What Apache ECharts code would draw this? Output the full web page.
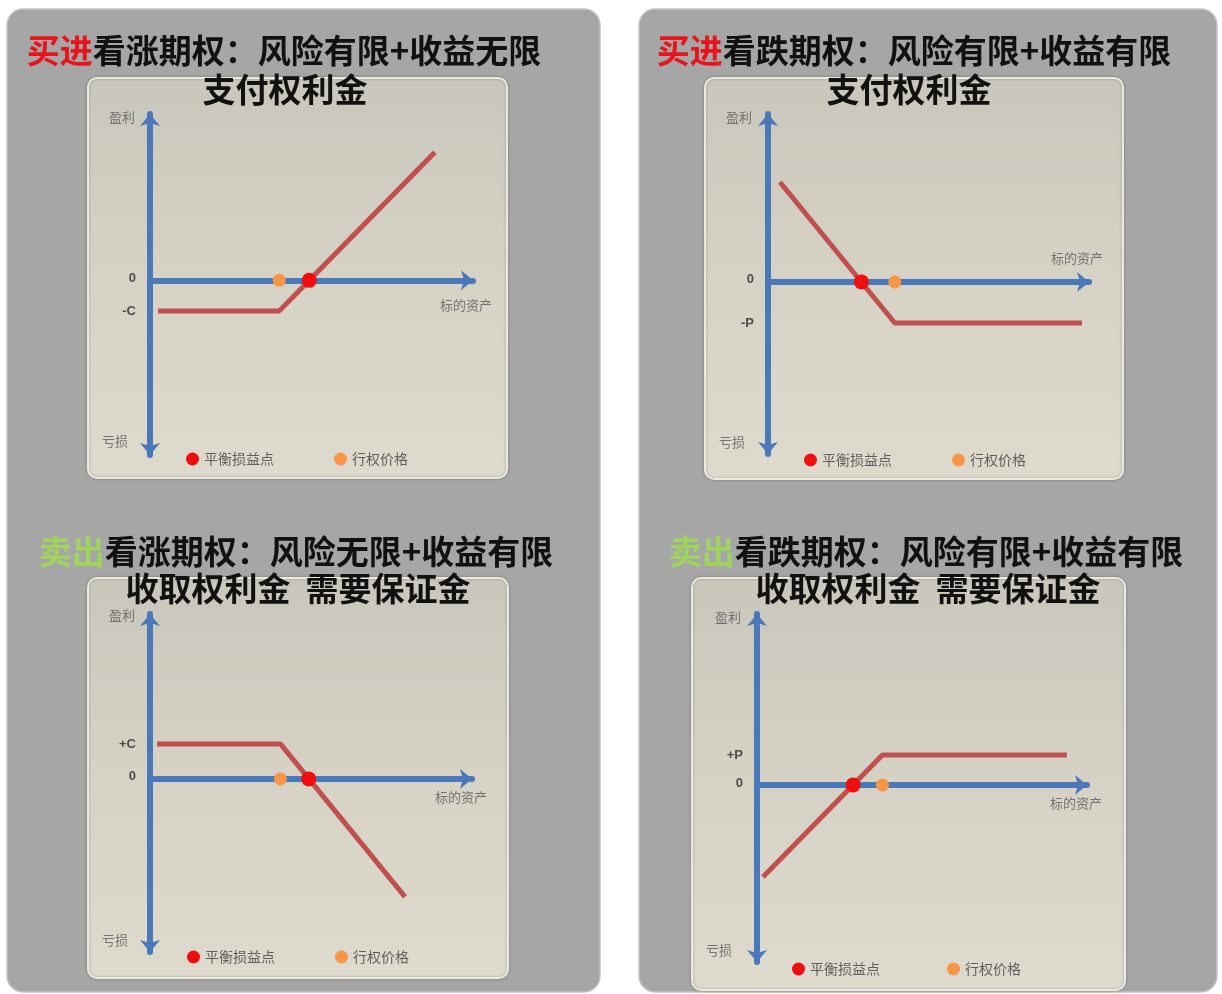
<!DOCTYPE html>
<html>
<head>
<meta charset="utf-8">
<title>期权损益图</title>
<script src="https://cdn.jsdelivr.net/npm/echarts@6/dist/echarts.min.js"></script>
<style>
  html, body { margin: 0; padding: 0; background: #ffffff; }
  #chart { width: 1222px; height: 994px; }
</style>
</head>
<body>
<div id="chart"></div>
<script>
// Payoff diagrams of the four basic option positions.
// x = price of the underlying (0-100), y = profit / loss (arbitrary units).

const actionWords   = ['买进', '买进', '卖出', '卖出'];
const titleRest     = ['看涨期权：风险有限+收益无限', '看跌期权：风险有限+收益有限',
                       '看涨期权：风险无限+收益有限', '看跌期权：风险有限+收益有限'];
const subTitles     = ['支付权利金', '支付权利金', '收取权利金  需要保证金', '收取权利金  需要保证金'];

const premiumLabels = ['-C', '-P', '+C', '+P'];
const premiumLevels = [-18.5, -24.5, 21.2, 17.5];
const strikePrices  = [40, 39.5, 40.5, 38];
const breakevens    = [49.3, 29.1, 49.3, 29.1];

// payoff polylines (flat part sits at the premium level)
const longCall  = [[2.5, premiumLevels[0]], [strikePrices[0], premiumLevels[0]], [88.2, 77]];
const longPut   = [[3.7, 59.5], [strikePrices[1], premiumLevels[1]], [97.8, premiumLevels[1]]];
const shortCall = [[2.2, premiumLevels[2]], [strikePrices[2], premiumLevels[2]], [79.2, -71.6]];
const shortPut  = [[1.8, -53.8], [strikePrices[3], premiumLevels[3]], [93.9, premiumLevels[3]]];
const payoffLines = [longCall, longPut, shortCall, shortPut];

const yRanges   = [[-105, 100], [-102.5, 100], [-105, 100], [-103.5, 100]];
const xRange    = [0, 100];
const axisWords = ['盈利', '亏损', '标的资产'];
const legendNames = ['平衡损益点', '行权价格'];

// ---- layout ----
const FONT = '"Noto Sans CJK SC", "Microsoft YaHei", sans-serif';
const layout = [
  { grid: { left: 150, top: 114, width: 323, height: 341 },
    box: [88, 78, 419, 400], t1: [284, 50], t2: [285, 89],
    legend: { left: 186, top: 452, gap: 60 },
    upOff: [-15, 3], downOff: [-22, -14], nameOff: [-7, 25] },
  { grid: { left: 768, top: 114, width: 321, height: 340 },
    box: [705, 78, 418, 401], t1: [914, 50], t2: [909, 89],
    legend: { left: 804, top: 453, gap: 60 },
    upOff: [-16, 3], downOff: [-23, -12], nameOff: [-12, -24] },
  { grid: { left: 150, top: 614, width: 322, height: 338 },
    box: [88, 578, 420, 400], t1: [296, 551], t2: [298, 588],
    legend: { left: 187, top: 950, gap: 60 },
    upOff: [-15, 1], downOff: [-22, -12], nameOff: [-11, 18] },
  { grid: { left: 757, top: 614, width: 330, height: 348 },
    box: [692, 578, 433, 412], t1: [926, 551], t2: [928, 588],
    legend: { left: 792, top: 962, gap: 67 },
    upOff: [-16, 3], downOff: [-25, -12], nameOff: [-11, 18] }
];

const AXIS_BLUE = '#4a78b8';
const LINE_RED = '#c0504d';
const DOT_RED = '#ee0e0e';
const DOT_ORANGE = '#f79646';

const grids = [], xAxes = [], yAxes = [], series = [], legends = [], graphics = [];

// outer grey cards
[[7, 9, 593, 983], [639, 9, 578, 983]].forEach(r => {
  graphics.push({
    type: 'rect', z: -20,
    shape: { x: r[0], y: r[1], width: r[2], height: r[3], r: 16 },
    style: { fill: '#a6a6a6', stroke: '#c4c4c4', lineWidth: 1.5 }
  });
});

layout.forEach((L, i) => {
  const [ymin, ymax] = yRanges[i];

  // beige plotting card
  graphics.push({
    type: 'rect', z: -10,
    shape: { x: L.box[0], y: L.box[1], width: L.box[2], height: L.box[3], r: 9 },
    style: {
      fill: new echarts.graphic.LinearGradient(0, 0, 0, 1, [
        { offset: 0, color: '#c9c6bb' },
        { offset: 0.5, color: '#d6d2c6' },
        { offset: 1, color: '#dedacd' }
      ]),
      stroke: '#ece9df', lineWidth: 2,
      shadowBlur: 3, shadowColor: 'rgba(0,0,0,0.25)'
    }
  });

  // headings
  graphics.push({
    type: 'text', z: 100, x: L.t1[0], y: L.t1[1],
    style: {
      text: '{a|' + actionWords[i] + '}{b|' + titleRest[i] + '}',
      align: 'center', verticalAlign: 'middle',
      rich: {
        a: { fill: i < 2 ? '#e8141c' : '#9fd45f', fontSize: 33, fontWeight: 'bold', fontFamily: FONT },
        b: { fill: '#111111', fontSize: 33, fontWeight: 'bold', fontFamily: FONT }
      }
    }
  });
  graphics.push({
    type: 'text', z: 100, x: L.t2[0], y: L.t2[1],
    style: {
      text: subTitles[i], align: 'center', verticalAlign: 'middle',
      fill: '#111111', fontSize: 33, fontWeight: 'bold', fontFamily: FONT
    }
  });

  grids.push(Object.assign({ containLabel: false }, L.grid));

  xAxes.push({
    type: 'value', gridIndex: i, min: xRange[0], max: xRange[1],
    axisLine: { show: true, onZero: true, symbol: ['none', 'arrow'], symbolSize: [15, 12],
                lineStyle: { color: AXIS_BLUE, width: 6 } },
    axisTick: { show: false }, axisLabel: { show: false }, splitLine: { show: false }
  });
  yAxes.push({
    type: 'value', gridIndex: i, min: ymin, max: ymax,
    axisLine: { show: true, onZero: true, symbol: ['arrow', 'arrow'], symbolSize: [15, 12],
                lineStyle: { color: AXIS_BLUE, width: 6 } },
    axisTick: { show: false }, axisLabel: { show: false }, splitLine: { show: false }
  });

  series.push({
    name: '损益', type: 'line', xAxisIndex: i, yAxisIndex: i, z: 3,
    data: payoffLines[i], symbol: 'none', silent: true,
    lineStyle: { color: LINE_RED, width: 5 }
  });
  series.push({
    name: legendNames[1], type: 'scatter', xAxisIndex: i, yAxisIndex: i, z: 4,
    data: [[strikePrices[i], 0]], symbolSize: 13,
    itemStyle: { color: DOT_ORANGE, opacity: 1 }
  });
  series.push({
    name: legendNames[0], type: 'scatter', xAxisIndex: i, yAxisIndex: i, z: 5,
    data: [[breakevens[i], 0]], symbolSize: 15,
    itemStyle: { color: DOT_RED, opacity: 1 }
  });

  // value marks on the profit axis: 0 and the premium
  series.push({
    name: '刻度', type: 'scatter', xAxisIndex: i, yAxisIndex: i, z: 6, silent: true,
    symbolSize: 0,
    data: [
      { value: [0, 0], label: { formatter: '0', offset: [0, -2] } },
      { value: [0, premiumLevels[i]], label: { formatter: premiumLabels[i] } }
    ],
    label: { show: true, position: 'left', distance: 14, color: '#2a2a2a',
             fontSize: 13, fontWeight: 'bold', fontFamily: 'Liberation Sans, Arial, sans-serif' }
  });

  // axis captions
  series.push({
    name: '轴名', type: 'scatter', xAxisIndex: i, yAxisIndex: i, z: 6, silent: true,
    symbolSize: 0,
    label: { show: true, color: '#5a5a5a', fontSize: 13, fontFamily: FONT },
    data: [
      { value: [0, ymax], label: { formatter: axisWords[0], position: 'inside', align: 'right',
                                   verticalAlign: 'middle', offset: L.upOff } },
      { value: [0, ymin], label: { formatter: axisWords[1], position: 'inside', align: 'right',
                                   verticalAlign: 'middle', offset: L.downOff } },
      { value: [xRange[1], 0], label: { formatter: axisWords[2], position: 'inside', align: 'center',
                                        verticalAlign: 'middle', offset: L.nameOff } }
    ]
  });

  legends.push({
    data: legendNames, left: L.legend.left, top: L.legend.top,
    itemGap: L.legend.gap, itemWidth: 13, itemHeight: 13, icon: 'circle',
    selectedMode: false, padding: 0,
    itemStyle: { opacity: 1 },
    textStyle: { color: '#5e5e5e', fontSize: 14, fontFamily: FONT, padding: [0, 0, 0, 0] }
  });
});

const chart = echarts.init(document.getElementById('chart'), null, { renderer: 'canvas' });
chart.setOption({
  animation: false,
  backgroundColor: '#ffffff',
  graphic: graphics,
  grid: grids,
  xAxis: xAxes,
  yAxis: yAxes,
  legend: legends,
  series: series
});
</script>
</body>
</html>
